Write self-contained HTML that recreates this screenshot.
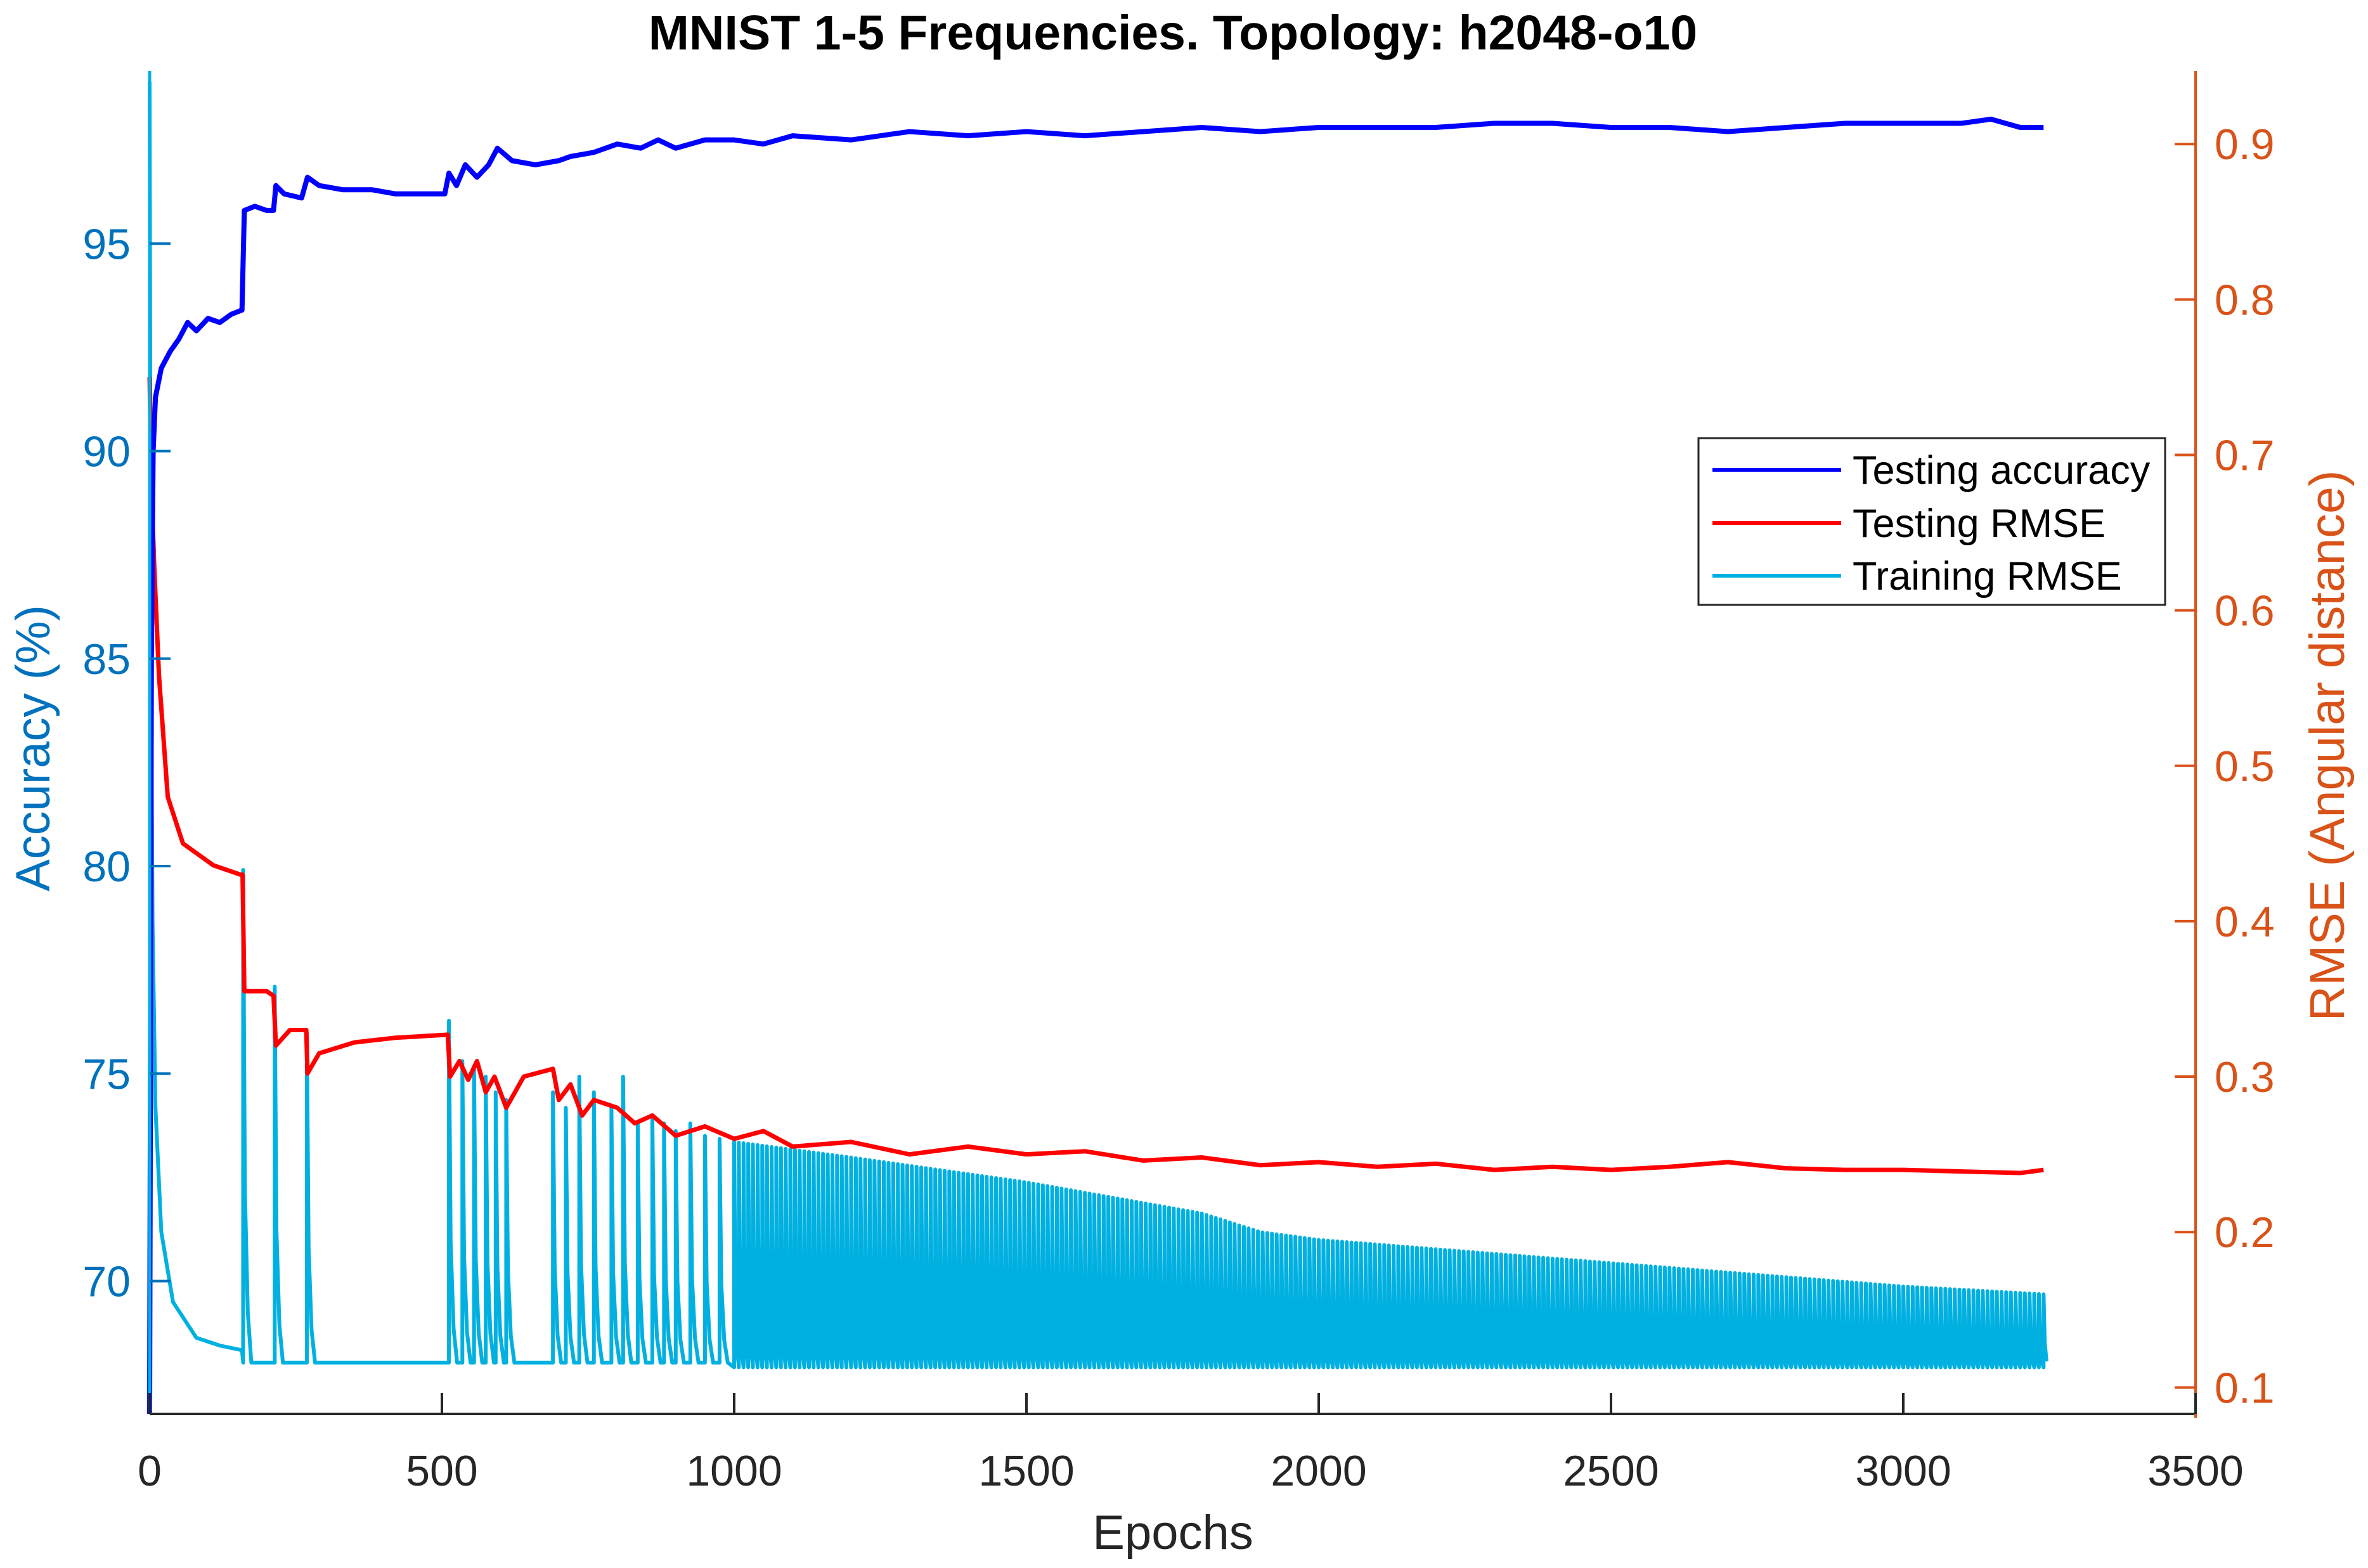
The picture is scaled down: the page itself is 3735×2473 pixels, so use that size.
<!DOCTYPE html>
<html><head><meta charset="utf-8"><style>
html,body{margin:0;padding:0;background:#fff}
svg{display:block;font-family:"Liberation Sans",Arial,sans-serif}
</style></head><body>
<svg id="chart" width="3735" height="2473" viewBox="0 0 3735 2473" xmlns="http://www.w3.org/2000/svg">
<rect width="3735" height="2473" fill="#fff"/>
<g id="marks"></g>
<g id="axes"></g>
<text x="1850" y="78" text-anchor="middle" font-size="77" font-weight="bold" fill="#000">MNIST 1-5 Frequencies. Topology: h2048-o10</text>
<text x="1850" y="2443" text-anchor="middle" font-size="76" fill="#262626">Epochs</text>
<text transform="translate(78,1180) rotate(-90)" text-anchor="middle" font-size="76" fill="#0072BD">Accuracy (%)</text>
<text transform="translate(3697,1176) rotate(-90)" text-anchor="middle" font-size="77" fill="#D95319">RMSE (Angular distance)</text>
<g>
<rect x="2679" y="691" width="736" height="263" fill="#fff" stroke="#262626" stroke-width="3"/>
<line x1="2701" y1="741" x2="2904" y2="741" stroke="#0000FF" stroke-width="6"/>
<text x="2922" y="763" font-size="63" fill="#000">Testing accuracy</text>
<line x1="2701" y1="825" x2="2904" y2="825" stroke="#FF0000" stroke-width="6"/>
<text x="2922" y="847" font-size="63" fill="#000">Testing RMSE</text>
<line x1="2701" y1="908" x2="2904" y2="908" stroke="#00B0E0" stroke-width="6"/>
<text x="2922" y="930" font-size="63" fill="#000">Training RMSE</text>
</g>
</svg>
<script>
const xTicks=[0,500,1000,1500,2000,2500,3000,3500];
const accTicks=[70,75,80,85,90,95];
const rmseTicks=[0.1,0.2,0.3,0.4,0.5,0.6,0.7,0.8,0.9];
const accEpochs=[0,3,6,10,20,35,50,65,80,100,120,140,158,162,180,200,212,216,230,260,270,290,330,380,420,460,505,512,525,540,560,580,595,620,660,700,720,760,800,840,870,900,950,1000,1050,1100,1200,1300,1400,1500,1600,1700,1800,1900,2000,2100,2200,2300,2400,2500,2600,2700,2800,2900,3000,3100,3150,3200,3240];
const accValues=[66.8,85,90,91.3,92.0,92.4,92.7,93.1,92.9,93.2,93.1,93.3,93.4,95.8,95.9,95.8,95.8,96.4,96.2,96.1,96.6,96.4,96.3,96.3,96.2,96.2,96.2,96.7,96.4,96.9,96.6,96.9,97.3,97.0,96.9,97.0,97.1,97.2,97.4,97.3,97.5,97.3,97.5,97.5,97.4,97.6,97.5,97.7,97.6,97.7,97.6,97.7,97.8,97.7,97.8,97.8,97.8,97.9,97.9,97.8,97.8,97.7,97.8,97.9,97.9,97.9,98.0,97.8,97.8];
const testEpochs=[0,3,8,16,31,57,109,155,159,162,200,212,216,240,268,270,290,350,420,510,514,530,545,560,575,590,610,640,690,700,720,740,760,800,830,860,900,950,1000,1050,1100,1200,1300,1400,1500,1600,1700,1800,1900,2000,2100,2200,2300,2400,2500,2600,2700,2800,2900,3000,3100,3200,3240];
const testRmse=[0.75,0.68,0.627,0.558,0.48,0.45,0.436,0.43,0.43,0.355,0.355,0.352,0.32,0.33,0.33,0.302,0.315,0.322,0.325,0.327,0.3,0.31,0.298,0.31,0.29,0.3,0.28,0.3,0.305,0.285,0.295,0.275,0.285,0.28,0.27,0.275,0.262,0.268,0.26,0.265,0.255,0.258,0.25,0.255,0.25,0.252,0.246,0.248,0.243,0.245,0.242,0.244,0.24,0.242,0.24,0.242,0.245,0.241,0.24,0.24,0.239,0.238,0.24];
const trainEpochs=[0,2,5,10,20,40,80,120,158];
const trainRmse=[0.94,0.6,0.4,0.28,0.2,0.155,0.132,0.127,0.124];
const spikeEpochs=[160,214,269,512,535,555,575,592,610,690,712,735,760,790,810,835,860,880,900,925,950,975];
const spikePeaks=[0.433,0.358,0.328,0.336,0.31,0.305,0.3,0.29,0.285,0.29,0.28,0.3,0.29,0.28,0.3,0.27,0.275,0.27,0.265,0.27,0.262,0.26];
const bandEpochs=[1000,1200,1500,1800,1900,2000,2500,3000,3240];
const bandHigh=[0.258,0.248,0.232,0.212,0.2,0.195,0.18,0.165,0.16];
const bandLow=[0.113,0.113,0.113,0.113,0.113,0.113,0.113,0.113,0.113];
const baseline=0.116;

const L=236,R=3463,T=112,B=2230;
const X=e=>L+(e-0)/(3500-0)*(R-L);
const YA=v=>B-(v-66.8)/(99.16-66.8)*(B-T);
const YR=v=>B-(v-0.083)/(0.947-0.083)*(B-T);
const NS='http://www.w3.org/2000/svg';
const marks=document.getElementById('marks'),axes=document.getElementById('axes');
function mk(tag,attrs,parent){const el=document.createElementNS(NS,tag);for(const k in attrs)el.setAttribute(k,attrs[k]);parent.appendChild(el);return el;}
function interp(xs,ys,x){for(let i=1;i<xs.length;i++){if(x<=xs[i]){const t=(x-xs[i-1])/(xs[i]-xs[i-1]);return ys[i-1]+t*(ys[i]-ys[i-1]);}}return ys[ys.length-1];}

let pts=trainEpochs.map((e,i)=>[X(e),YR(trainRmse[i])]);
spikeEpochs.forEach((e,i)=>{
  pts.push([X(e),YR(baseline)]);pts.push([X(e),YR(spikePeaks[i])]);
  pts.push([X(e+3),YR(baseline+(spikePeaks[i]-baseline)*0.35)]);
  pts.push([X(e+8),YR(baseline+(spikePeaks[i]-baseline)*0.1)]);
  pts.push([X(e+14),YR(baseline)]);
});
for(let e=1000;e<=3240;e+=8){
  const hi=interp(bandEpochs,bandHigh,e),lo=interp(bandEpochs,bandLow,e);
  pts.push([X(e),YR(lo)]);pts.push([X(e),YR(hi)]);
  pts.push([X(e+2),YR(lo+(hi-lo)*0.35)]);pts.push([X(e+5),YR(lo+(hi-lo)*0.08)]);
}
const tr=mk('polyline',{points:pts.map(p=>p.join(',')).join(' '),fill:'none',stroke:'#00B0E0','stroke-width':6,'stroke-linejoin':'round'},marks);



const te=mk('polyline',{points:testEpochs.map((e,i)=>X(e)+','+YR(testRmse[i])).join(' '),fill:'none',stroke:'#FF0000','stroke-width':7,'stroke-linejoin':'round'},marks);



const ac=mk('polyline',{points:accEpochs.map((e,i)=>X(e)+','+YA(accValues[i])).join(' '),fill:'none',stroke:'#0000FF','stroke-width':8,'stroke-linejoin':'round'},marks);



const xa=mk('line',{x1:L,y1:B,x2:R,y2:B,stroke:'#262626','stroke-width':4},axes);


const la=mk('line',{x1:L,y1:T,x2:L,y2:B,stroke:'#00B0E0','stroke-width':5},axes);


const ra=mk('line',{x1:R,y1:T,x2:R,y2:B+6,stroke:'#D95319','stroke-width':4},axes);


xTicks.forEach(v=>{
  const t=mk('line',{x1:X(v),y1:B,x2:X(v),y2:B-33,stroke:'#262626','stroke-width':4},axes);
  
  
  const l=mk('text',{x:X(v),y:B+113,'text-anchor':'middle','font-size':68,fill:'#262626'},axes);
  l.textContent=v;
  
  
});
accTicks.forEach(v=>{
  const t=mk('line',{x1:L,y1:YA(v),x2:L+33,y2:YA(v),stroke:'#0072BD','stroke-width':4},axes);
  
  
  const l=mk('text',{x:L-30,y:YA(v)+24,'text-anchor':'end','font-size':68,fill:'#0072BD'},axes);
  l.textContent=v;
  
  
});
rmseTicks.forEach(v=>{
  const t=mk('line',{x1:R,y1:YR(v),x2:R-33,y2:YR(v),stroke:'#D95319','stroke-width':4},axes);
  
  
  const l=mk('text',{x:R+30,y:YR(v)+24,'text-anchor':'start','font-size':68,fill:'#D95319'},axes);
  l.textContent=v.toFixed(1);
  
  
});
</script>
</body></html>
